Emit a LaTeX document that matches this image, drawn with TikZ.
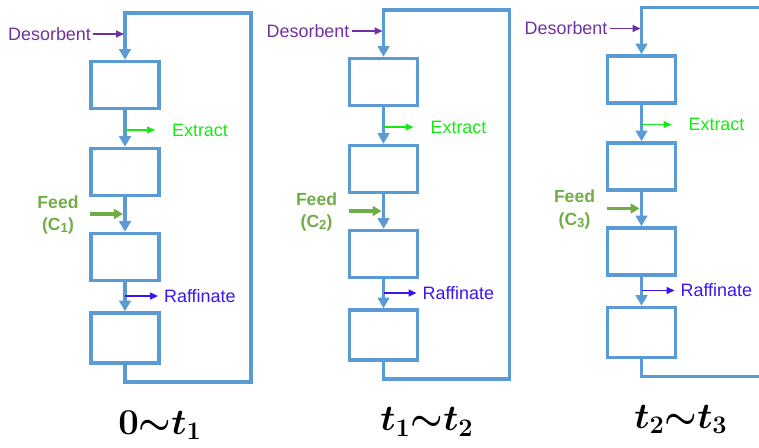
\documentclass[tikz,border=0pt]{standalone}
\usepackage[no-math]{fontspec}
\setmainfont{Liberation Sans}
\usetikzlibrary{arrows.meta,positioning}
\definecolor{colblue}{RGB}{91,155,213}
\definecolor{despurple}{RGB}{112,48,160}
\definecolor{extgreen}{RGB}{20,235,20}
\definecolor{feedgreen}{RGB}{112,173,71}
\definecolor{rafblue}{RGB}{60,20,240}

\begin{document}
\begin{tikzpicture}[
    x=0.02cm, y=-0.02cm,
    stage/.style={draw=colblue, line width=2pt,
      minimum width=1.36cm, minimum height=0.94cm, inner sep=0pt},
    flow/.style={draw=colblue, line width=1.9pt, -{Triangle[length=6pt,width=6.5pt]}},
    tag/.style={font=\fontsize{10.2}{12}\selectfont, inner sep=1pt},
    tap/.style={line width=0.6pt, -{Triangle[length=4.5pt,width=4pt]}},
    timelbl/.style={font=\fontsize{20}{24}\selectfont\boldmath}
  ]
  \clip (0,0) rectangle (759,447);

  %% one panel per switching interval
  \foreach \k/\sx/\sy/\tlab/\tx in {1/0/0/{0{\sim}t_1}/160,
      2/258.5/3/{t_1{\sim}t_2}/168.5,
      3/516.5/5.5/{t_2{\sim}t_3}/164.5}{
  \begin{scope}[xshift=\sx*0.02cm, yshift=\sy*0.02cm]
    %% columns
    \node[stage] (colA\k) at (125,85)  {};
    \node[stage] (colB\k) at (125,172) {};
    \node[stage] (colC\k) at (125,257) {};
    \node[stage, minimum height=1cm] (colD\k) at (125,338) {};
    \draw[flow] (colA\k) -- (colB\k);
    \draw[flow] (colB\k) -- (colC\k);
    \draw[flow] (colC\k) -- (colD\k);

    %% recycle line
    \coordinate (tl\k) at (125,13);
    \coordinate (br\k) at (251,382);
    \draw[flow] (colD\k.south) |- (br\k) |- (tl\k) -- (colA\k.north);

    %% desorbent in
    \node[tag, anchor=east, text=despurple] (des\k) at (93,34) {Desorbent};
    \coordinate (din\k) at (124,34);
    \draw[tap, line width=0.8pt, despurple] (des\k) -- (din\k);

    %% extract out
    \coordinate (xo\k) at (125,130);
    \node[tag, anchor=west, text=extgreen] (ext\k) at (170,130) {Extract};
    \draw[tap, extgreen, shorten >=0.3cm] (xo\k) -- (ext\k);

    %% feed in
    \node[tag, font=\fontsize{10}{13}\selectfont\bfseries, align=center, text=feedgreen]
      (feed\k) at (58,215) {Feed\\(C\raisebox{-0.2ex}{\fontsize{7.5}{8}\selectfont\k})};
    \coordinate (fin\k) at (123,214);
    \draw[feedgreen, line width=1.8pt, -{Triangle[length=5pt,width=5.5pt]}, shorten <=0.19cm]
      (feed\k.east |- fin\k) -- (fin\k);

    %% raffinate out
    \coordinate (ro\k) at (125,296);
    \node[tag, anchor=west, text=rafblue] (raf\k) at (162,296) {Raffinate};
    \draw[tap, rafblue, shorten >=0.08cm] (ro\k) -- (raf\k);

    \node[timelbl] (lab\k) at (\tx,425) {$\tlab$};
  \end{scope}
  }
\end{tikzpicture}
\end{document}
